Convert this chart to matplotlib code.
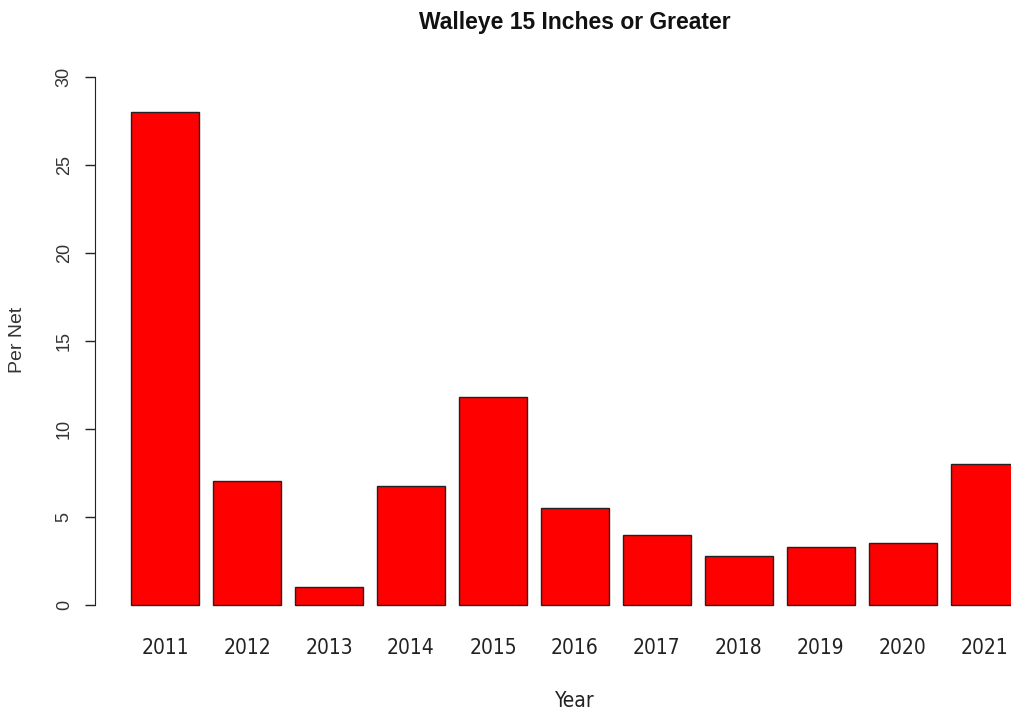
import matplotlib
matplotlib.use("Agg")
import matplotlib.pyplot as plt
import matplotlib.transforms as mtransforms
from matplotlib import font_manager

years = ["2011", "2012", "2013", "2014", "2015", "2016", "2017", "2018", "2019", "2020", "2021"]
per_net = [28.0, 7.05, 1.0, 6.75, 11.8, 5.5, 4.0, 2.8, 3.3, 3.5, 8.0]
y_ticks = [0, 5, 10, 15, 20, 25, 30]

# look for a condensed face (R on Windows used Arial Narrow-like rendering)
narrow_prop = None
for f in font_manager.fontManager.ttflist:
    n = f.name.lower()
    if "narrow" in n or ("condensed" in str(f.stretch).lower() and "sans" in n and "mono" not in n):
        if "bold" not in f.fname.lower() and "oblique" not in f.fname.lower() and "italic" not in f.fname.lower():
            narrow_prop = f.fname
            break

plt.rcParams["font.family"] = ["Liberation Sans", "DejaVu Sans"]

W, H = 1011, 713
fig = plt.figure(figsize=(W / 100, H / 100), dpi=100)

centers = [0.7 + 1.2 * i for i in range(len(years))]
x0_px, unit_px = 117.3, 68.3
left_px = 95
xmin = (left_px - x0_px) / unit_px
xmax = (W - x0_px) / unit_px

ax = fig.add_axes([left_px / W, 87 / H, (W - left_px) / W, 570 / H])
ax.bar(centers, per_net, width=1.0, color="#ff0000", edgecolor="#222222", linewidth=1.0)
ax.set_xlim(xmin, xmax)
ax.set_ylim(-1.2, 31.2)

for s in ["top", "right", "bottom"]:
    ax.spines[s].set_visible(False)
ax.spines["left"].set_bounds(0, 30)
ax.spines["left"].set_color("#222222")
ax.set_yticks(y_ticks)
ax.set_yticklabels([str(t) for t in y_ticks], rotation=90, va="center", fontsize=13, color="#333333")
ax.tick_params(axis="y", length=7, width=1, color="#222222", pad=9)

if narrow_prop:
    xfont = font_manager.FontProperties(fname=narrow_prop, size=15)
else:
    xfont = font_manager.FontProperties(family="Liberation Sans", size=14)

ax.set_xticks(centers)
ax.set_xticklabels(years, fontproperties=xfont, color="#222222")
ax.tick_params(axis="x", length=0, pad=9)

trans = mtransforms.blended_transform_factory(ax.transData, fig.transFigure)
ax.text(6.7, 1 - 23 / H, "Walleye 15 Inches or Greater", transform=trans, ha="center", va="center",
        fontsize=16.5, fontweight="bold", color="#111111")
ax.text(6.7, 1 - 701 / H, "Year", transform=trans, ha="center", va="center",
        fontproperties=xfont, color="#222222")
fig.text(18 / W, 1 - 340 / H, "Per Net", rotation=90, ha="center", va="center",
         fontsize=14, color="#333333")

fig.savefig("out.png", dpi=100, facecolor="white")
